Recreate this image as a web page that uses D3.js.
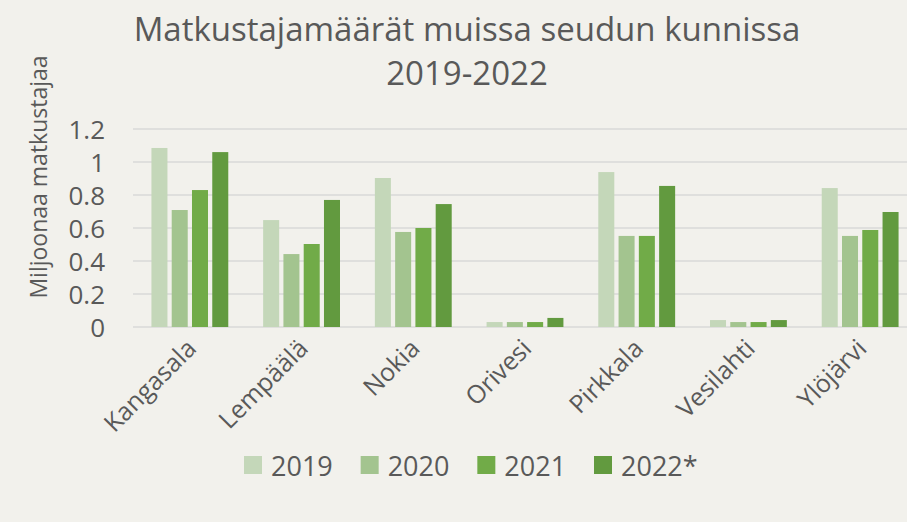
<!DOCTYPE html>
<html>
<head>
<meta charset="utf-8">
<script src="https://cdn.jsdelivr.net/npm/d3@7"></script>
<style>
  html, body { margin: 0; padding: 0; background: #f2f1ec; }
  svg { display: block; font-family: "Open Sans", sans-serif; }
</style>
</head>
<body>
<div id="container"></div>
<script>
// data
const categories = ["Kangasala", "Lempäälä", "Nokia", "Orivesi", "Pirkkala", "Vesilahti", "Ylöjärvi"];
const years = ["2019", "2020", "2021", "2022*"];
const v2019 = [1.085, 0.648, 0.903, 0.03, 0.939, 0.042, 0.842];
const v2020 = [0.709, 0.442, 0.576, 0.03, 0.552, 0.03, 0.552];
const v2021 = [0.83, 0.503, 0.6, 0.03, 0.552, 0.03, 0.588];
const v2022 = [1.06, 0.77, 0.745, 0.055, 0.855, 0.042, 0.697];
const yTicks = [0, 0.2, 0.4, 0.6, 0.8, 1, 1.2];
const yTickLabels = ["0", "0.2", "0.4", "0.6", "0.8", "1", "1.2"];

const WIDTH = 907;
const HEIGHT = 522;
const COLORS = ["#c4d7b9", "#a3c48f", "#71ab48", "#629a3f"];
const TEXT = "#595959";
const GRID = "#d9d9d9";

const series = [v2019, v2020, v2021, v2022];

const svg = d3.select("#container")
    .append("svg")
    .attr("width", WIDTH)
    .attr("height", HEIGHT);

svg.append("rect")
    .attr("width", WIDTH)
    .attr("height", HEIGHT)
    .attr("fill", "#f2f1ec");

// scales
const x0 = d3.scaleBand()
    .domain(categories)
    .range([134, 916]);

const x1 = d3.scaleBand()
    .domain(years)
    .range([0, x0.bandwidth()])
    .paddingInner(0.21)
    .paddingOuter(0.86);

const yScale = d3.scaleLinear()
    .domain([0, 1.2])
    .range([327, 129]);

// gridlines
svg.append("g")
    .selectAll("line")
    .data(yTicks)
    .enter()
    .append("line")
    .attr("x1", 133)
    .attr("x2", WIDTH)
    .attr("y1", (d) => yScale(d))
    .attr("y2", (d) => yScale(d))
    .attr("stroke", GRID)
    .attr("stroke-width", 1.5);

// y axis labels
const leftAxis = d3.axisLeft(yScale)
    .tickValues(yTicks)
    .tickFormat((d, i) => yTickLabels[i])
    .tickSize(0)
    .tickPadding(0);

const yAxis = svg.append("g")
    .attr("transform", "translate(105, 0)")
    .call(leftAxis);
yAxis.select(".domain").remove();
yAxis.selectAll("text")
    .attr("fill", TEXT)
    .attr("font-size", 26)
    .attr("font-family", "Open Sans")
    .attr("dy", "0.36em");

// bars
const groups = svg.append("g")
    .selectAll("g")
    .data(categories)
    .enter()
    .append("g")
    .attr("transform", (d) => "translate(" + x0(d) + ",0)");

groups.selectAll("rect")
    .data((d, i) => years.map((y, j) => ({ year: y, value: series[j][i], color: COLORS[j] })))
    .enter()
    .append("rect")
    .attr("x", (d) => x1(d.year))
    .attr("width", x1.bandwidth())
    .attr("y", (d) => yScale(d.value))
    .attr("height", (d) => yScale(0) - yScale(d.value))
    .attr("fill", (d) => d.color);

// category labels
svg.append("g")
    .selectAll("text")
    .data(categories)
    .enter()
    .append("text")
    .attr("transform", (d) => "translate(" + (x0(d) + x0.bandwidth() / 2 + 8) + ",350) rotate(-45)")
    .attr("text-anchor", "end")
    .attr("fill", TEXT)
    .attr("font-size", 25)
    .text((d) => d);

// title
const title = svg.append("text")
    .attr("text-anchor", "middle")
    .attr("fill", TEXT)
    .attr("font-size", 33);
title.append("tspan").attr("x", 467).attr("y", 41).text("Matkustajamäärät muissa seudun kunnissa");
title.append("tspan").attr("x", 467).attr("y", 85).text("2019-2022");

// y axis title
svg.append("text")
    .attr("transform", "translate(47,177) rotate(-90)")
    .attr("text-anchor", "middle")
    .attr("fill", TEXT)
    .attr("font-size", 23)
    .text("Miljoonaa matkustajaa");

// legend
const legendX = d3.scalePoint()
    .domain(years)
    .range([244, 594]);

const legend = svg.append("g")
    .selectAll("g")
    .data(years)
    .enter()
    .append("g")
    .attr("transform", (d) => "translate(" + legendX(d) + ",456)");

legend.append("rect")
    .attr("width", 18)
    .attr("height", 18)
    .attr("fill", (d, i) => COLORS[i]);

legend.append("text")
    .attr("x", 27)
    .attr("y", 20)
    .attr("fill", TEXT)
    .attr("font-size", 27)
    .text((d) => d);
</script>
</body>
</html>
